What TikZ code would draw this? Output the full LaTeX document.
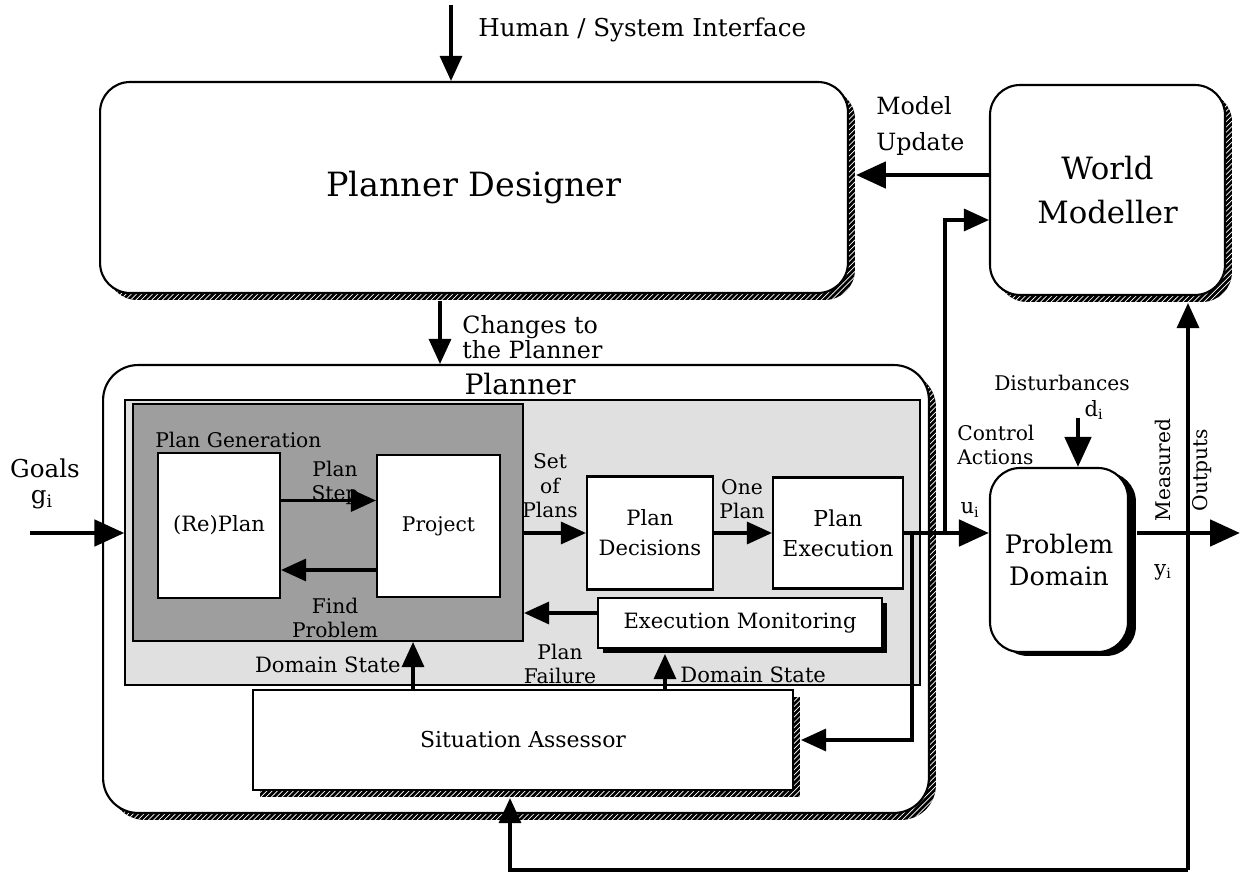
\documentclass[tikz,border=0pt]{standalone}
\usepackage{fontspec}
\setmainfont{DejaVu Serif}
\usetikzlibrary{arrows.meta}
\usetikzlibrary{patterns}
\usetikzlibrary{shadows}
\begin{document}
\begin{tikzpicture}[x=0.02cm,y=-0.02cm]
	\tikzstyle{box}=[draw, line width=1.2pt, fill=white, inner sep=0pt, align=center]
	\tikzstyle{rbox}=[box, rounded corners=0.6cm]
	\tikzstyle{hatch}=[drop shadow={shadow xshift=0.14cm, shadow yshift=-0.14cm, opacity=1, fill=black, postaction={pattern=north east lines, pattern color=white}}]
	\tikzstyle{arr}=[line width=1.8pt, -{Triangle[length=0.5cm,width=0.44cm]}]
	\tikzstyle{tarr}=[line width=2.8pt, -{Triangle[length=0.6cm,width=0.52cm]}]
	\tikzstyle{lbl}=[inner sep=0pt, align=center, font=\fontsize{11.5}{14}\selectfont]
	\useasboundingbox (0,0) rectangle (1241,884);
	
	\node[rbox, hatch, minimum width=14.96cm, minimum height=4.22cm, font=\fontsize{19}{22}\selectfont] (pd) at (474,187.5) {Planner Designer};
	\node[rbox, hatch, minimum width=4.7cm, minimum height=4.2cm, font=\fontsize{17.5}{25}\selectfont] (wm) at (1107.5,190) {World\\Modeller};
	
	\node[rbox, hatch, rounded corners=0.7cm, minimum width=16.52cm, minimum height=8.96cm] (planner) at (516,589) {};
	\node[box, line width=0.8pt, fill=black!12, minimum width=15.9cm, minimum height=5.7cm] (lg) at (522.5,542.5) {};
	\node[box, fill=black!38, minimum width=7.8cm, minimum height=4.74cm] (pg) at (328,522.5) {};
	\node[box, minimum width=2.44cm, minimum height=2.9cm, font=\fontsize{12}{14}\selectfont] (rp) at (219,525.5) {(Re)Plan};
	\node[box, minimum width=2.46cm, minimum height=2.84cm, font=\fontsize{11.5}{14}\selectfont] (pj) at (438.5,526) {Project};
	\node[box, minimum width=2.52cm, minimum height=2.26cm, font=\fontsize{12}{17}\selectfont] (pdc) at (650,533) {Plan\\Decisions};
	\node[box, minimum width=2.6cm, minimum height=2.22cm, font=\fontsize{12.5}{17}\selectfont] (pe) at (838,533) {Plan\\Execution};
	\node[box, drop shadow={shadow xshift=0.1cm, shadow yshift=-0.1cm, opacity=1, fill=black}, minimum width=5.68cm, minimum height=1cm, font=\fontsize{12}{14}\selectfont] (em) at (740,623) {Execution Monitoring};
	\node[box, hatch, minimum width=10.8cm, minimum height=2cm, font=\fontsize{12.5}{14}\selectfont] (sa) at (523,740) {Situation Assessor};
	\node[rbox, drop shadow={shadow xshift=0.16cm, shadow yshift=-0.08cm, opacity=1, fill=black}, minimum width=2.76cm, minimum height=3.68cm, font=\fontsize{14.5}{18}\selectfont] (pdom) at (1059,560) {Problem\\Domain};
	
	\coordinate (hsi) at (451,5);
	\coordinate (goal) at (30,533);
	\coordinate (j1) at (912,533);
	\coordinate (j2) at (945,533);
	\coordinate (c1) at (1188,870);
	\coordinate (dtop) at (1078,418);
	\coordinate (out) at (1240,533);
	\coordinate (cp) at ([xshift=-0.68cm,yshift=-0.14cm]pd.south);
	\coordinate (pde) at ([xshift=0.14cm]pd.east);
	\coordinate (wmu) at ([yshift=0.3cm]wm.west);
	\coordinate (wml) at ([yshift=-0.6cm]wm.west);
	\coordinate (wms) at ([yshift=-0.14cm]wm.south);
	\coordinate (sae) at ([xshift=0.14cm]sa.east);
	\coordinate (sas) at ([xshift=-0.26cm,yshift=-0.14cm]sa.south);
	\coordinate (pdo) at ([xshift=0.16cm]pdom.east);
	
	\draw[arr] (hsi) -- (hsi |- pd.north);
	\draw[tarr] (wmu) -- (wmu -| pde);
	\draw[arr] (cp) -- (cp |- planner.north);
	\draw[tarr] (goal) -- (goal -| lg.west);
	\draw[arr] ([yshift=0.5cm]rp.east) -- ([yshift=0.5cm]rp.east -| pj.west);
	\draw[arr] ([yshift=-0.88cm]pj.west) -- ([yshift=-0.88cm]pj.west -| rp.east);
	\draw[arr] (pg.east |- pdc) -- (pdc.west);
	\draw[arr] (pdc.east) -- (pe.west);
	\draw[arr] ([yshift=0.2cm]em.west) -- ([yshift=0.2cm]em.west -| pg.east);
	\draw[arr] ([xshift=-2.2cm]sa.north) -- ([xshift=-2.2cm]sa.north |- pg.south);
	\draw[arr] ([xshift=2.84cm]sa.north) -- ([xshift=2.84cm,yshift=-0.1cm]sa.north |- em.south);
	\draw[tarr] (pe.east) -- (pe.east -| pdom.west);
	\draw[arr] (j1) |- (sae);
	\draw[arr] (j2) |- (wml);
	\draw[tarr] (dtop) -- (dtop |- pdom.north);
	\draw[tarr] (pdo |- pe.east) -- (out);
	\draw[arr] (c1) -- (c1 |- wms);
	\draw[arr] (c1) -| (sas);
	
	\node[lbl, anchor=west, font=\fontsize{14}{16}\selectfont] (lhsi) at (478,30) {Human / System Interface};
	\node[lbl, anchor=west, align=left, font=\fontsize{13.5}{20}\selectfont] (lmu) at (876,126) {Model\\Update};
	\node[lbl, anchor=west, align=left, font=\fontsize{13.5}{14}\selectfont] (lcp) at (462,337) {Changes to\\the Planner};
	\node[lbl, font=\fontsize{16}{18}\selectfont] (lpl) at (520,384) {Planner};
	\node[lbl, anchor=west] (lpg) at (155,440) {Plan Generation};
	\node[lbl] (lps) at (335,483) {Plan\\Step};
	\node[lbl] (lfp) at (335,618) {Find\\Problem};
	\node[lbl] (lsp) at (550,486) {Set\\of\\Plans};
	\node[lbl] (lop) at (742,499) {One\\Plan};
	\node[lbl] (lpf) at (560,664) {Plan\\Failure};
	\node[lbl, anchor=east, font=\fontsize{12}{14}\selectfont] (lds1) at (401,665) {Domain State};
	\node[lbl, anchor=west, font=\fontsize{12}{14}\selectfont] (lds2) at (680,675) {Domain State};
	\node[lbl] (ldist) at (1062,383) {Disturbances};
	\node[lbl, font=\fontsize{12}{14}\selectfont] (ldi) at (1094,410) {d\textsubscript{i}};
	\node[lbl, anchor=west, align=left] (lca) at (957,445) {Control\\Actions};
	\node[lbl, font=\fontsize{12}{14}\selectfont] (lui) at (970,510) {u\textsubscript{i}};
	\node[lbl, rotate=90] (lmeas) at (1163,470) {Measured};
	\node[lbl, rotate=90] (lout) at (1202,470) {Outputs};
	\node[lbl, font=\fontsize{12}{14}\selectfont] (lyi) at (1163,572) {y\textsubscript{i}};
	\node[lbl, font=\fontsize{14}{16}\selectfont] (lgoals) at (45,468) {Goals};
	\node[lbl, font=\fontsize{14}{16}\selectfont] (lgi) at (42,500) {g\textsubscript{i}};
\end{tikzpicture}
\end{document}
